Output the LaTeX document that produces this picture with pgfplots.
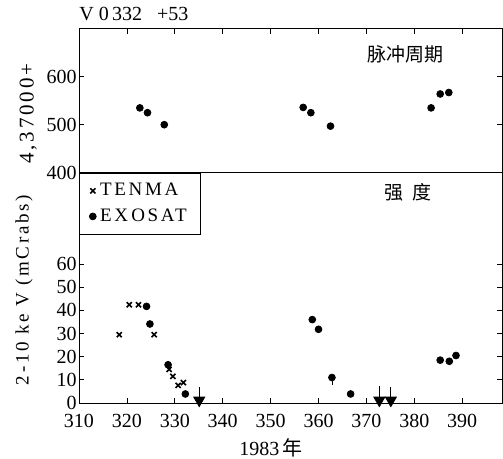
\documentclass[border=0pt]{standalone}
\usepackage{fontspec}
\setmainfont{Liberation Serif}
\newfontfamily\cjk{Noto Sans CJK SC}
\newfontfamily\spaced[LetterSpace=14]{Liberation Serif}
\usepackage{pgfplots}
\pgfplotsset{compat=1.18}

% pulse period (upper panel)
\pgfplotstableread{
x y
322.7 535
324.3 525
327.8 500
356.8 536
358.4 525
362.5 497
383.5 535
385.4 564
387.2 567
}\period

% TENMA flux
\pgfplotstableread{
x y
318.4 29.5
320.5 42.4
322.4 42.4
325.7 29.5
328.8 14.5
329.6 11.5
330.7 7.6
331.8 8.8
}\tenma

% EXOSAT flux
\pgfplotstableread{
x y
324.1 41.7
324.8 34.1
328.6 16.5
332.2 3.9
358.7 36.0
360.0 31.8
362.8 11.0
366.7 3.9
385.4 18.5
387.3 18.0
388.7 20.5
}\exosat

\pgfplotsset{pan/.style={scale only axis, width=211.5pt, clip=false,
  xmin=310, xmax=398.3, xtick={310,320,...,390},
  tick align=inside, major tick length=2.5pt, axis line style={thin},
  tick style={thin, black},
  ticklabel style={font=\fontsize{10}{11}\selectfont},
  /pgf/number format/assume math mode=true,
  /pgf/number format/1000 sep={}}}

\begin{document}
\begin{tikzpicture}
\begin{axis}[pan, at={(0,115.15pt)}, anchor=south west, height=72pt,
  ymin=400, ymax=700, ytick={400,500,600},
  xtick pos=upper, xticklabels={}, ytick pos=both, yticklabel pos=left,
  yticklabel style={inner sep=1pt}]
  \addplot[only marks, mark=*, mark size=1.7pt, black] table {\period};
  \node[anchor=south west, font=\fontsize{10}{11}\selectfont, inner sep=0pt]
    at (axis description cs:0,1) [yshift=3.5pt] {V\ 0\,332\ \ \ +53};
  \node[font=\cjk\fontsize{9.5}{10}\selectfont] at (axis description cs:0.771,0.82) {脉冲周期};
  \node[rotate=90, font=\spaced\fontsize{10.5}{11}\selectfont] at (axis description cs:-0.12,0.41) {4,37000+};
\end{axis}
\begin{axis}[pan, at={(0,0)}, anchor=south west, height=115.15pt,
  ymin=0, ymax=99.4, ytick={0,10,...,60},
  xtick pos=lower, ytick pos=both, yticklabel pos=left,
  yticklabel style={inner sep=1pt}, xticklabel style={inner sep=2pt, yshift=-3.5pt},
  legend style={at={(0,1)}, anchor=north west, draw=black, thin,
    font=\spaced\fontsize{9.5}{11}\selectfont, inner xsep=5pt, inner ysep=3pt,
    row sep=1pt},
  legend cell align=left]
  \addplot[only marks, mark=x, mark size=1.8pt, black, thick] table {\tenma};
  \addlegendentry{TENMA}
  \addplot[only marks, mark=*, mark size=1.7pt, black] table {\exosat};
  \addlegendentry{EX\,OSAT}
  % upper limits
  \addplot[forget plot, only marks, mark=triangle*, mark size=3.2pt, black,
    mark options={rotate=180}] coordinates {(335.1,1.2) (372.7,1.2) (375.1,1.2)};
  \addplot[forget plot, black, thin] coordinates {(335.1,2) (335.1,7)};
  \addplot[forget plot, black, thin] coordinates {(372.7,2) (372.7,7.5)};
  \addplot[forget plot, black, thin] coordinates {(375.1,2) (375.1,7)};
  \addplot[forget plot, black, thin] coordinates {(362.8,7.8) (362.8,9.5)};
  \node[font=\cjk\fontsize{9.5}{10}\selectfont] at (axis description cs:0.778,0.916) {强\ \ 度};
  \node[rotate=90, font=\spaced\fontsize{9.5}{11}\selectfont] at (axis description cs:-0.13,0.49) {2-10 ke V (mCrabs)};
  \node[font=\fontsize{10}{11}\selectfont] at (axis description cs:0.454,0) [yshift=-22.5pt] {1983\,{\cjk 年}};
\end{axis}
\pgfresetboundingbox
\useasboundingbox (-39.5pt,-28pt) rectangle (212pt,201.5pt);
\end{tikzpicture}
\end{document}
